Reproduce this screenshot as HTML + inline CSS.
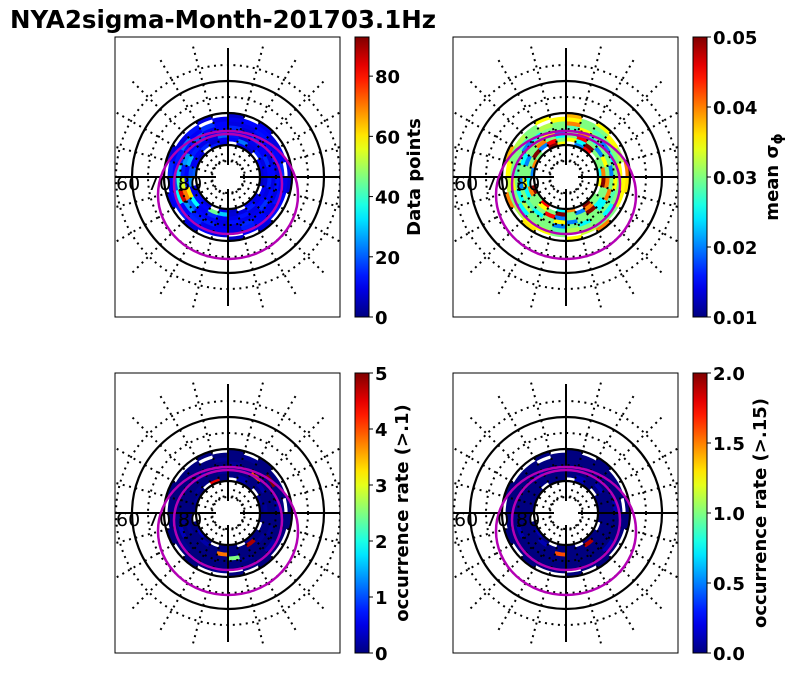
<!DOCTYPE html>
<html><head><meta charset="utf-8">
<style>
body{margin:0;background:#fff;}
svg{display:block;font-family:"DejaVu Sans","Liberation Sans",sans-serif;}
</style></head>
<body>
<svg id="fig" width="795" height="674" viewBox="0 0 795 674">
<text x="10" y="28" font-size="24.5" font-weight="bold">NYA2sigma-Month-201703.1Hz</text>
</svg>
<script>
// ---- data (rows = latitude bins, columns = 24 MLT sectors; -1 = no data) ----
const latBins = [80,78.75,77.5,76.25,75,73.75,72.5,71.25];
const mltSectors = [0,1,2,3,4,5,6,7,8,9,10,11,12,13,14,15,16,17,18,19,20,21,22,23];
const dataPoints = [
[8,12,-1,6,10,-1,9,14,-1,7,11,20,-1,8,12,9,-1,10,7,-1,12,9,-1,6],
[10,9,14,9,22,12,11,8,15,11,10,18,25,10,13,12,45,30,8,9,14,10,11,8],
[12,15,11,10,9,13,20,9,10,14,28,12,12,60,35,11,15,11,10,13,9,12,9,14],
[12,9,11,16,11,10,14,10,18,12,25,14,55,70,20,12,11,9,13,10,10,16,12,9],
[9,14,12,10,8,15,12,11,20,13,15,30,40,85,25,14,14,10,9,15,12,11,9,13],
[15,12,10,13,10,9,12,16,11,22,14,12,18,35,12,15,10,11,9,14,12,10,13,11],
[-1,11,9,12,12,10,10,-1,13,9,11,15,11,12,14,10,12,9,-1,11,10,13,12,10],
[8,-1,-1,10,-1,7,-1,9,-1,-1,8,-1,-1,10,-1,9,-1,-1,7,-1,9,-1,-1,8]];
const meanSigma = [
[.025,.03,-1,.045,.02,-1,.035,.05,-1,.03,.04,.02,-1,.05,.03,.045,-1,.025,.04,-1,.05,.03,-1,.035],
[.04,.03,.03,.05,.025,.035,.03,.045,.02,.05,.03,.03,.025,.04,.03,.035,.03,.05,.03,.02,.04,.03,.03,.05],
[.03,.035,.02,.03,.045,.03,.025,.03,.04,.03,.02,.03,.035,.025,.03,.03,.045,.02,.03,.03,.05,.025,.03,.04],
[.02,.03,.03,.025,.04,.03,.02,.035,.03,.03,.025,.03,.02,.03,.028,.025,.03,.035,.02,.03,.03,.025,.04,.03],
[.03,.025,.02,.03,.035,.028,.03,.03,.025,.02,.03,.028,.03,.025,.032,.03,.03,.02,.03,.025,.03,.03,.028,.035],
[.035,.03,.03,.028,.03,.04,.03,.032,.03,.028,.03,.03,.035,.03,.025,.03,.03,.028,.032,.03,.03,.025,.03,.03],
[-1,.032,.035,.03,.03,.035,.035,-1,.03,.032,.03,.035,.033,.03,.032,.035,.035,.03,-1,.033,.03,.03,.035,.035],
[.04,-1,-1,.035,-1,.038,-1,.035,-1,-1,.038,-1,-1,.04,-1,.036,-1,-1,.035,-1,.04,-1,-1,.036]];
const occ10 = [
[0,0.1,-1,0,0.2,-1,0,4.5,-1,0,0.1,0,-1,0,0.3,0,-1,0,0,-1,0.1,0,-1,0],
[0.1,0,0,0,0.2,0,0,0,0,0.1,0,0,0,0,0,0.2,0,0,0,0,4.8,0,0,0],
[0,0,0.2,0,0,0,0.1,0,0,0,0,0,0,0.1,0,0,0,3.8,0,0,0,0.1,0,0],
[0,0,0,4,0.1,0,0,0,0.2,0,0,0,0.1,0,0,0,0,0,2.5,0,0,0,0.1,0],
[0.2,0,0,0,0,0.1,0,0,0,0,0,0,0,0.3,0,0,0,0,0,0.1,0,0,0,0],
[0,0,5,0,0,0,0.1,0,0,0,0,0,0,0,0.1,0,0,0,0,0,0,0.2,0,0],
[-1,0,0,0,0.1,0,0,-1,0,0,0,0,0,0,0,0,0,0.1,-1,0,0,0,0,0],
[0,-1,-1,0,-1,0,-1,0,-1,-1,0,-1,-1,0,-1,0,-1,-1,0,-1,0,-1,-1,0]];
const occ15 = [
[0,0,-1,0,0.1,-1,0,0,-1,0,0,0,-1,0,0.1,0,-1,0,0,-1,0,0,-1,0],
[0,0,0,0,0.1,0,0,0,0,0,0,0,0,0,0,0.1,0,0,0,0,1.9,0,0,0],
[0,0,0.1,0,0,0,0,0,0,0,0,0,0,0,0,0,0,1.6,0,0,0,0,0,0],
[0,0,0,0,0,0,0,0,0.1,0,0,0,0,0,0,0,0,0,0,0,0,0,0,0],
[0.1,0,0,0,0,0,0,0,0,0,0,0,0,0.1,0,0,0,0,0,0,0,0,0,0],
[0,0,0,0,0,0,0,0,0,0,0,0,0,0,0,0,0,0,0,0,0,0.1,0,0],
[-1,0,0,0,0,0,0,-1,0,0,0,0,0,0,0,0,0,0,-1,0,0,0,0,0],
[0,-1,-1,0,-1,0,-1,0,-1,-1,0,-1,-1,0,-1,0,-1,-1,0,-1,0,-1,-1,0]];
const ticks1 = [0,20,40,60,80];
const ticks2 = [0.01,0.02,0.03,0.04,0.05];
const ticks3 = [0,1,2,3,4,5];
const ticks4 = [0.0,0.5,1.0,1.5,2.0];

const NS="http://www.w3.org/2000/svg";
const svg=document.getElementById('fig');
function mk(tag,attrs,parent){const e=document.createElementNS(NS,tag);for(const k in attrs)e.setAttribute(k,attrs[k]);(parent||svg).appendChild(e);return e;}
function jet(t){t=Math.max(0,Math.min(1,t));
  const r=Math.max(0,Math.min(1,1.5-Math.abs(4*t-3))),g=Math.max(0,Math.min(1,1.5-Math.abs(4*t-2))),b=Math.max(0,Math.min(1,1.5-Math.abs(4*t-1)));
  return `rgb(${Math.round(r*255)},${Math.round(g*255)},${Math.round(b*255)})`;}

const panels=[
 {ax:115,ay:37,vals:dataPoints,vmin:0,vmax:93,ticks:ticks1,fmt:v=>String(v),label:'Data points',lx:420,name:'data-points'},
 {ax:453,ay:37,vals:meanSigma,vmin:0.01,vmax:0.05,ticks:ticks2,fmt:v=>v.toFixed(2),label:'mean σ',sub:'ϕ',lx:778,name:'mean-sigma'},
 {ax:115,ay:373,vals:occ10,vmin:0,vmax:5,ticks:ticks3,fmt:v=>String(v),label:'occurrence rate (>.1)',lx:408,name:'occurrence-rate-01'},
 {ax:453,ay:373,vals:occ15,vmin:0,vmax:2,ticks:ticks4,fmt:v=>v.toFixed(1),label:'occurrence rate (>.15)',lx:766,name:'occurrence-rate-015'}];
const W=225,H=280,K=3.2;
const latWidth=(latBins[0]-latBins[latBins.length-1])/(latBins.length-1);
panels.forEach((p,pi)=>{
  const cx=p.ax+113,cy=p.ay+140;
  const rOf=lat=>(90-lat)*K;
  const cp=mk('clipPath',{id:'c'+pi});mk('rect',{x:p.ax,y:p.ay,width:W,height:H},cp);
  const g=mk('g',{'clip-path':`url(#c${pi})`});
  
  
  const step=360/mltSectors.length;
  p.vals.forEach((row,ri)=>{row.forEach((v,ci)=>{
    if(v<0)return;
    const r1=rOf(latBins[ri]),r2=rOf(latBins[ri]-latWidth);
    const a1=(mltSectors[ci]+6)*step*Math.PI/180,a2=a1+step*Math.PI/180;
    const P=(r,a)=>`${(cx+r*Math.sin(a)).toFixed(2)},${(cy+r*Math.cos(a)).toFixed(2)}`;
    const col=jet((v-p.vmin)/(p.vmax-p.vmin));
    const c=mk('path',{d:`M${P(r1,a1)}L${P(r2,a1)}A${r2},${r2} 0 0 0 ${P(r2,a2)}L${P(r1,a2)}A${r1},${r1} 0 0 1 ${P(r1,a1)}Z`,fill:col,stroke:col,'stroke-width':0.8},g);
    
    
  });});
  [85,75,65,55].forEach(l=>{const c=mk('circle',{cx,cy,r:rOf(l),fill:'none',stroke:'#000','stroke-width':2,'stroke-dasharray':'2 4.5'},g);
    });
  for(let a=0;a<360;a+=15){if(a%90===0)continue;const t=a*Math.PI/180;
    const l=mk('line',{x1:cx+16*Math.sin(t),y1:cy+16*Math.cos(t),x2:cx+135*Math.sin(t),y2:cy+135*Math.cos(t),stroke:'#000','stroke-width':2,'stroke-dasharray':'2 4.5'},g);
    }
  [80,70,60].forEach(l=>{const c=mk('circle',{cx,cy,r:rOf(l),fill:'none',stroke:'#000','stroke-width':2.2},g);
    });
  [[cx,cy-129,cx,cy-12],[cx,cy+12,cx,cy+129],[p.ax,cy,cx-12,cy],[cx+12,cy,p.ax+W,cy]].forEach(s=>{
    const l=mk('line',{x1:s[0],y1:s[1],x2:s[2],y2:s[3],stroke:'#000','stroke-width':2},g);
    });
  const e1=mk('ellipse',{cx:cx,cy:cy+18,rx:70,ry:64,fill:'none',stroke:'#b400b4','stroke-width':2.5},g);
  
  const e2=mk('ellipse',{cx:cx,cy:cy+7,rx:54,ry:50,fill:'none',stroke:'#b400b4','stroke-width':2.5},g);
  
  ['60','70','80'].forEach((t,i)=>{const tx=mk('text',{x:p.ax+1+i*31,y:cy+13,'font-size':19},g);tx.textContent=t;
    });
  const fr=mk('rect',{x:p.ax,y:p.ay,width:W,height:H,fill:'none',stroke:'#000','stroke-width':1});
  
  const bx=p.ax+240,by=p.ay,bw=14;
  const gid='g'+pi;const lg=mk('linearGradient',{id:gid,x1:0,y1:1,x2:0,y2:0});
  for(let i=0;i<=20;i++)mk('stop',{offset:i/20,'stop-color':jet(i/20)},lg);
  const cb=mk('rect',{x:bx,y:by,width:bw,height:H,fill:`url(#${gid})`,stroke:'#000','stroke-width':1});
  
  p.ticks.forEach(v=>{const y=by+H-(v-p.vmin)/(p.vmax-p.vmin)*H;
    mk('line',{x1:bx+bw,y1:y,x2:bx+bw+4,y2:y,stroke:'#000','stroke-width':1});
    const t=mk('text',{x:bx+bw+6,y:y+7,'font-size':18,'font-weight':'bold'});t.textContent=p.fmt(v);
    });
  const lt=mk('text',{x:p.lx,y:by+H/2,'font-size':18,'font-weight':'bold','text-anchor':'middle',transform:`rotate(-90 ${p.lx} ${by+H/2})`});
  lt.textContent=p.label;
  if(p.sub){const ts=mk('tspan',{'font-size':14,dy:4},lt);ts.textContent=p.sub;}
  
});
</script>
</body></html>
